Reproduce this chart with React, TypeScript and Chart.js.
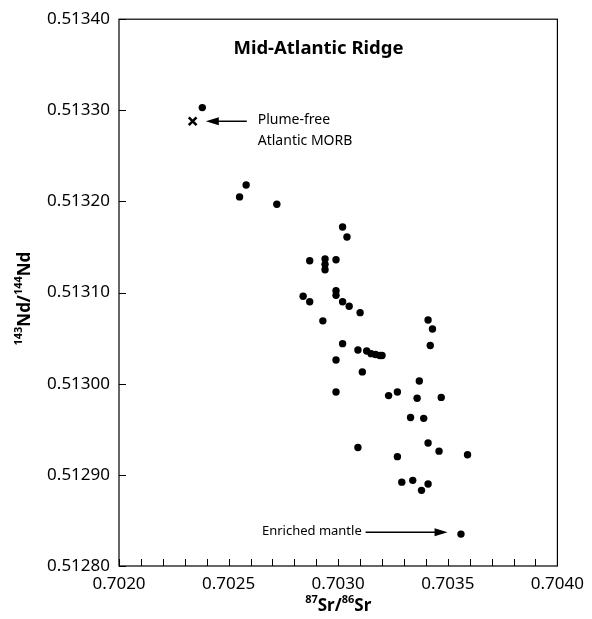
import React, { useEffect, useRef } from "react";
import { Chart, registerables } from "chart.js";

Chart.register(...registerables);

// 87Sr/86Sr of MAR samples
const srRatio = [
  0.70238, 0.70258, 0.70255, 0.70272, 0.70302, 0.70304, 0.70287, 0.70294, 0.70294, 0.70294,
  0.70299, 0.70284, 0.70287, 0.70299, 0.70299, 0.70302, 0.70305, 0.7031, 0.70293, 0.70302,
  0.70309, 0.70313, 0.70315, 0.70317, 0.70319, 0.7032, 0.70299, 0.70311, 0.70299, 0.70341,
  0.70343, 0.70342, 0.70337, 0.70323, 0.70327, 0.70336, 0.70347, 0.70333, 0.70339, 0.70309,
  0.70341, 0.70346, 0.70327, 0.70359, 0.70329, 0.70334, 0.70341, 0.70338, 0.70356,
];
// 143Nd/144Nd of MAR samples
const ndRatio = [
  0.513303, 0.513218, 0.513205, 0.513197, 0.513172, 0.513161, 0.513135, 0.513137, 0.513131, 0.513125,
  0.513136, 0.513096, 0.51309, 0.513102, 0.513097, 0.51309, 0.513085, 0.513078, 0.513069, 0.513044,
  0.513037, 0.513036, 0.513033, 0.513032, 0.513031, 0.513031, 0.513026, 0.513013, 0.512991, 0.51307,
  0.51306, 0.513042, 0.513003, 0.512987, 0.512991, 0.512984, 0.512985, 0.512963, 0.512962, 0.51293,
  0.512935, 0.512926, 0.51292, 0.512922, 0.512892, 0.512894, 0.51289, 0.512883, 0.512835,
];
// Plume-free Atlantic MORB
const morbSr = [0.702336];
const morbNd = [0.513288];

const xMin = 0.702;
const xMax = 0.704;
const yMin = 0.5128;
const yMax = 0.5134;

const titleText = "Mid-Atlantic Ridge";
const morbLabel = ["Plume-free", "Atlantic MORB"];
const enrichedLabel = "Enriched mantle";

// annotation anchors in data units
const titleAnchor = { x: 0.70291, y: 0.513368 };
const morbArrow = { from: 0.702583, to: 0.702396, y: 0.513288 };
const morbTextAnchor = { x: 0.702633, y1: 0.513289, y2: 0.513266 };
const enrichedArrow = { from: 0.703125, to: 0.703499, y: 0.512837 };
const enrichedTextAnchor = { x: 0.702652, y: 0.512838 };

const FONT = "'Noto Sans', 'DejaVu Sans', sans-serif";

function drawRich(ctx: CanvasRenderingContext2D, parts: { t: string; sup?: boolean }[], cx: number, cy: number) {
  const main = `bold 17px ${FONT}`;
  const sup = `bold 11px ${FONT}`;
  let total = 0;
  const widths = parts.map((p) => {
    ctx.font = p.sup ? sup : main;
    const w = ctx.measureText(p.t).width;
    total += w;
    return w;
  });
  let xpos = cx - total / 2;
  ctx.textAlign = "left";
  ctx.textBaseline = "middle";
  parts.forEach((p, i) => {
    ctx.font = p.sup ? sup : main;
    ctx.fillText(p.t, xpos, p.sup ? cy - 6 : cy);
    xpos += widths[i];
  });
}

function arrow(ctx: CanvasRenderingContext2D, x1: number, x2: number, y: number) {
  const dir = Math.sign(x2 - x1);
  const headLen = 13;
  const half = 4;
  ctx.beginPath();
  ctx.moveTo(x1, y);
  ctx.lineTo(x2 - dir * headLen + dir * 1, y);
  ctx.lineWidth = 1.5;
  ctx.stroke();
  ctx.beginPath();
  ctx.moveTo(x2, y);
  ctx.lineTo(x2 - dir * headLen, y - half);
  ctx.lineTo(x2 - dir * headLen, y + half);
  ctx.closePath();
  ctx.fill();
}

const decorPlugin = {
  id: "decor",
  afterDraw(chart: any) {
    const { ctx, chartArea: a, scales } = chart;
    const x = scales.x;
    const y = scales.y;
    ctx.save();
    ctx.strokeStyle = "#000";
    ctx.fillStyle = "#000";
    ctx.lineWidth = 1.2;
    ctx.strokeRect(a.left, a.top, a.right - a.left, a.bottom - a.top);
    ctx.beginPath();
    x.ticks.forEach((t: any) => {
      const px = Math.round(x.getPixelForValue(t.value)) + 0.5;
      ctx.moveTo(px, a.bottom);
      ctx.lineTo(px, a.bottom - 7);
    });
    y.ticks.forEach((t: any) => {
      const py = Math.round(y.getPixelForValue(t.value)) + 0.5;
      ctx.moveTo(a.left, py);
      ctx.lineTo(a.left + 7, py);
    });
    ctx.lineWidth = 1;
    ctx.stroke();

    // title
    ctx.font = `bold 18.5px ${FONT}`;
    ctx.textAlign = "center";
    ctx.textBaseline = "middle";
    ctx.fillText(titleText, x.getPixelForValue(titleAnchor.x), y.getPixelForValue(titleAnchor.y));

    // MORB annotation
    ctx.font = `14px ${FONT}`;
    ctx.textAlign = "left";
    ctx.fillText(morbLabel[0], x.getPixelForValue(morbTextAnchor.x), y.getPixelForValue(morbTextAnchor.y1));
    ctx.fillText(morbLabel[1], x.getPixelForValue(morbTextAnchor.x), y.getPixelForValue(morbTextAnchor.y2));
    arrow(ctx, x.getPixelForValue(morbArrow.from), x.getPixelForValue(morbArrow.to), y.getPixelForValue(morbArrow.y));

    // Enriched mantle annotation
    ctx.font = `13px ${FONT}`;
    ctx.textAlign = "left";
    ctx.textBaseline = "middle";
    ctx.fillText(enrichedLabel, x.getPixelForValue(enrichedTextAnchor.x), y.getPixelForValue(enrichedTextAnchor.y));
    arrow(ctx, x.getPixelForValue(enrichedArrow.from), x.getPixelForValue(enrichedArrow.to), y.getPixelForValue(enrichedArrow.y));

    // axis titles
    drawRich(ctx, [{ t: "87", sup: true }, { t: "Sr/" }, { t: "86", sup: true }, { t: "Sr" }], (a.left + a.right) / 2, 606);
    ctx.translate(25, (a.top + a.bottom) / 2 + 6);
    ctx.rotate(-Math.PI / 2);
    drawRich(ctx, [{ t: "143", sup: true }, { t: "Nd/" }, { t: "144", sup: true }, { t: "Nd" }], 0, 0);
    ctx.restore();
  },
};

export default function App() {
  const ref = useRef<HTMLCanvasElement | null>(null);
  useEffect(() => {
    document.body.style.margin = "0";
    if (!ref.current) return;
    const chart = new Chart(ref.current, {
      type: "scatter",
      data: {
        datasets: [
          {
            label: "MAR",
            data: srRatio.map((v, i) => ({ x: v, y: ndRatio[i] })),
            backgroundColor: "#000",
            borderWidth: 0,
            pointRadius: 3.7,
            pointHoverRadius: 3.7,
          },
          {
            label: "MORB",
            data: morbSr.map((v, i) => ({ x: v, y: morbNd[i] })),
            pointStyle: "crossRot",
            borderColor: "#000",
            borderWidth: 2.6,
            pointRadius: 5.5,
            pointHoverRadius: 5.5,
          },
        ],
      },
      options: {
        animation: false,
        responsive: false,
        events: [],
        layout: { padding: { left: 0, top: 15, right: 34, bottom: 0 } },
        plugins: { legend: { display: false }, tooltip: { enabled: false }, title: { display: false } },
        scales: {
          x: {
            type: "linear",
            min: xMin,
            max: xMax,
            grid: { display: false, drawTicks: false },
            border: { display: false },
            afterFit: (s: any) => {
              s.height = 53;
            },
            ticks: {
              stepSize: 0.0001,
              padding: 8,
              color: "#000",
              autoSkip: false,
              maxRotation: 0,
              font: { family: FONT, size: 17 },
              callback: (v: any) => {
                const n = Math.round(Number(v) * 10000);
                return n % 5 === 0 ? (n / 10000).toFixed(4) : "";
              },
            },
          },
          y: {
            type: "linear",
            min: yMin,
            max: yMax,
            grid: { display: false, drawTicks: false },
            border: { display: false },
            afterFit: (s: any) => {
              s.width = 119;
            },
            ticks: {
              stepSize: 0.0001,
              padding: 9,
              color: "#000",
              autoSkip: false,
              font: { family: FONT, size: 17 },
              callback: (v: any) => (Math.round(Number(v) * 10000) / 10000).toFixed(5),
            },
          },
        },
      },
      plugins: [decorPlugin],
    });
    return () => chart.destroy();
  }, []);
  return (
    <div style={{ width: 592, height: 619 }}>
      <canvas ref={ref} width={592} height={619} style={{ display: "block" }} />
    </div>
  );
}
